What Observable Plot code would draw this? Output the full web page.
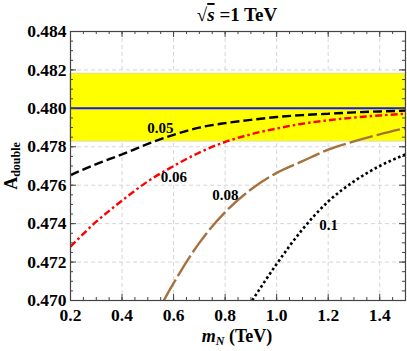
<!DOCTYPE html>
<html><head><meta charset="utf-8">
<script src="https://cdn.jsdelivr.net/npm/d3@7"></script>
<script src="https://cdn.jsdelivr.net/npm/@observablehq/plot@0.6"></script>
<style>body{margin:0;background:#fff}</style>
</head><body><div id="chart"></div>
<script>
// ---- data ----
const mN = [0.2,0.3,0.4,0.5,0.6,0.7,0.8,0.9,1.0,1.1,1.2,1.3,1.4,1.5];
const a005 = [0.47653,0.47710,0.47760,0.47815,0.47862,0.47900,0.47923,0.47940,0.47955,0.47965,0.47972,0.47979,0.47984,0.47988];
const a006 = [0.47280,0.47410,0.47520,0.47620,0.47700,0.47770,0.47825,0.47865,0.47895,0.47920,0.47938,0.47952,0.47963,0.47972];
const mN08 = [0.562,0.6,0.7,0.8,0.9,1.0,1.1,1.2,1.3,1.4,1.5];
const a008 = [0.47000,0.47090,0.47300,0.47460,0.47578,0.47664,0.47725,0.47785,0.47828,0.47865,0.47897];
const mN10 = [0.905,1.0,1.1,1.2,1.3,1.4,1.5];
const a010 = [0.47000,0.47190,0.47370,0.47515,0.47620,0.47700,0.47760];
const smValue = 0.480;
const bandLow = 0.47827, bandHigh = 0.48181;
const curveLabels = ["0.05","0.06","0.08","0.1"];
const labelX = [0.549,0.601,0.801,1.202];
const labelY = [0.47897,0.47644,0.47546,0.47392];
const xTicks = [0.2,0.4,0.6,0.8,1.0,1.2,1.4];
const yTicks = [0.470,0.472,0.474,0.476,0.478,0.480,0.482,0.484];
const xTickLabels = ["0.2","0.4","0.6","0.8","1.0","1.2","1.4"];
const yTickLabels = ["0.470","0.472","0.474","0.476","0.478","0.480","0.482","0.484"];
const xMinor = d3.range(0,27).map(i => 0.2 + i*0.05);
const yMinor = d3.range(0,29).map(i => 0.470 + i*0.0005);
const xDomain = [0.2,1.5], yDomain = [0.470,0.484];

// ---- layout ----
const W = 407, H = 351, mt = 31, mb = 51, ml = 70, mr = 2;
const innerH = H - mt - mb, innerW = W - ml - mr;

const toRows = (xs, ys) => xs.map((x,i) => ({x, y: ys[i]}));
const labels = curveLabels.map((t,i) => ({t, x: labelX[i], y: labelY[i]}));
const serif = "'Liberation Serif', 'DejaVu Serif', serif";
const lineOpts = {x: "x", y: "y", strokeWidth: 2.4, strokeLinecap: "butt", strokeLinejoin: "miter", curve: "monotone-x"};

const chart = Plot.plot({
  width: W, height: H,
  marginTop: mt, marginBottom: mb, marginLeft: ml, marginRight: mr,
  style: {fontFamily: serif, fontSize: "17px", fontWeight: "bold", background: "#fff", overflow: "visible"},
  x: {domain: xDomain},
  y: {domain: yDomain},
  marks: [
    Plot.gridX(xTicks.slice(1), {stroke: "#ccc", strokeOpacity: 1, strokeDasharray: "4,3", strokeWidth: 0.8}),
    Plot.gridY(yTicks.slice(1,-1), {stroke: "#ccc", strokeOpacity: 1, strokeDasharray: "4,3", strokeWidth: 0.8}),
    Plot.rect([{x1: xDomain[0], x2: xDomain[1], y1: bandLow, y2: bandHigh}], {x1: "x1", x2: "x2", y1: "y1", y2: "y2", fill: "#ffff00", stroke: "#c8c8c8", strokeWidth: 0.6}),
    Plot.line(toRows(mN, a005), {...lineOpts, stroke: "#000", strokeDasharray: "9,4"}),
    Plot.line(toRows(mN, a006), {...lineOpts, stroke: "#ff0000", strokeDasharray: "7,3,2.5,3"}),
    Plot.line(toRows(mN08, a008), {...lineOpts, stroke: "#a5713d", strokeDasharray: "24,4"}),
    Plot.line(toRows(mN10, a010), {...lineOpts, stroke: "#000", strokeWidth: 2.6, strokeDasharray: "2.6,2.6"}),
    Plot.ruleY([smValue], {x1: xDomain[0], x2: xDomain[1], stroke: "#1515ff", strokeWidth: 2}),
    Plot.text(labels, {x: "x", y: "y", text: "t", fontSize: 15, fontWeight: "bold", fill: "#000"}),
    Plot.frame({stroke: "#444", strokeWidth: 1.2}),
    // minor + major ticks, drawn inward on all four sides
    Plot.tickX(xMinor, {x: d => d, insetTop: innerH - 3, stroke: "#444"}),
    Plot.tickX(xMinor, {x: d => d, insetBottom: innerH - 3, stroke: "#444"}),
    Plot.tickX(xTicks, {x: d => d, insetTop: innerH - 6, stroke: "#444"}),
    Plot.tickX(xTicks, {x: d => d, insetBottom: innerH - 6, stroke: "#444"}),
    Plot.tickY(yMinor, {y: d => d, insetRight: innerW - 3, stroke: "#444"}),
    Plot.tickY(yMinor, {y: d => d, insetLeft: innerW - 3, stroke: "#444"}),
    Plot.tickY(yTicks, {y: d => d, insetRight: innerW - 6, stroke: "#444"}),
    Plot.tickY(yTicks, {y: d => d, insetLeft: innerW - 6, stroke: "#444"}),
    Plot.axisX(xTicks, {anchor: "bottom", tickSize: 0, tickPadding: 8, tickFormat: (d, i) => xTickLabels[i], label: null, fontSize: 17.5, fill: "#000"}),
    Plot.axisY(yTicks, {anchor: "left", tickSize: 0, tickPadding: 4, tickFormat: (d, i) => yTickLabels[i], label: null, fontSize: 17.5, fill: "#000"})
  ]
});
document.getElementById("chart").appendChild(chart);

// ---- titles (real text) ----
const svg = d3.select(chart);
const title = svg.append("text").attr("x", 237).attr("y", 21).attr("text-anchor", "middle")
  .attr("font-family", serif).attr("font-size", 19).attr("font-weight", "bold").attr("fill", "#000");
title.append("tspan").text("\u221A");
title.append("tspan").attr("font-style", "italic").attr("text-decoration", "overline").text("s");
title.append("tspan").text(" =1 TeV");

const xl = svg.append("text").attr("x", 237).attr("y", 342).attr("text-anchor", "middle")
  .attr("font-family", serif).attr("font-size", 18).attr("font-weight", "bold").attr("fill", "#000");
xl.append("tspan").attr("font-style", "italic").text("m");
xl.append("tspan").attr("font-style", "italic").attr("font-size", 12).attr("dy", 3).text("N");
xl.append("tspan").attr("dy", -3).text(" (TeV)");

const yl = svg.append("text").attr("transform", "translate(17,166) rotate(-90)").attr("text-anchor", "middle")
  .attr("font-family", serif).attr("font-size", 18).attr("font-weight", "bold").attr("fill", "#000");
yl.append("tspan").text("A");
yl.append("tspan").attr("font-size", 12).attr("dy", 3).text("double");
</script>
</body></html>
